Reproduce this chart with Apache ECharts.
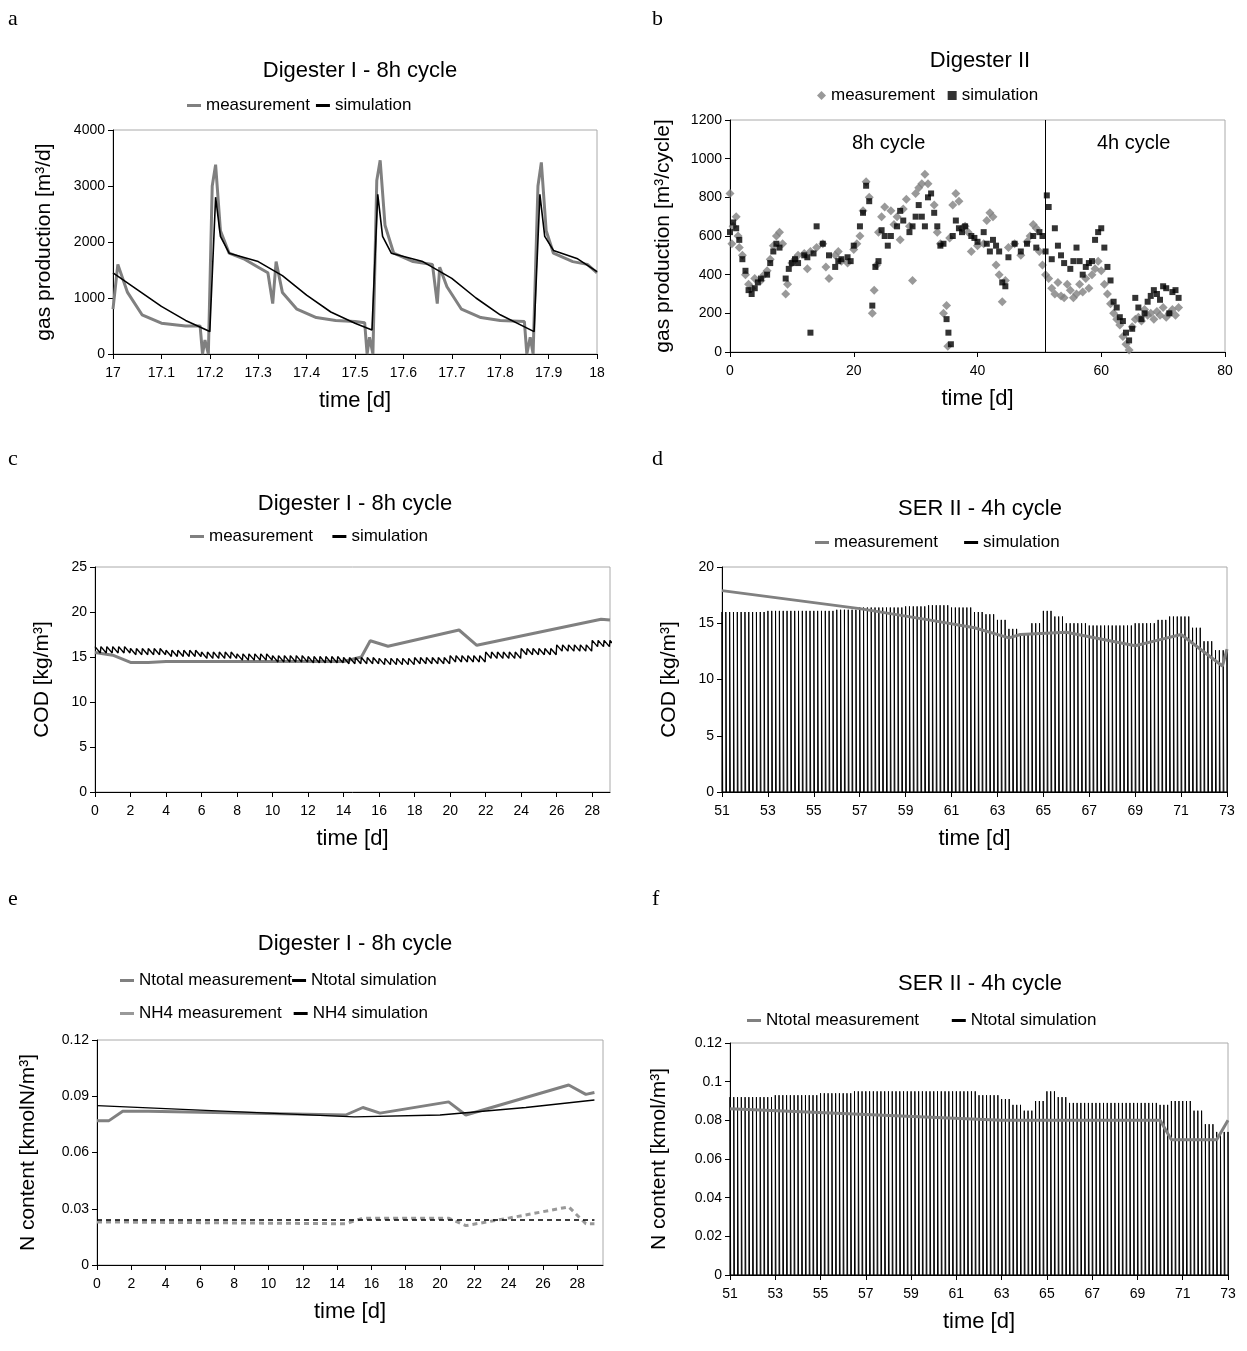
<!DOCTYPE html>
<html><head><meta charset="utf-8">
<script src="https://cdn.jsdelivr.net/npm/echarts@6/dist/echarts.min.js"></script>
<style>body{margin:0;background:#fff}#c{width:1247px;height:1351px}</style>
</head><body><div id="c"></div>
<script>
// panel a - gas production, Digester I
const aMeas = [[17,800],[17.01,1600],[17.03,1100],[17.06,700],[17.1,550],[17.15,500],[17.18,500],[17.185,0],[17.19,250],[17.197,0],[17.205,3000],[17.212,3380],[17.222,2200],[17.24,1800],[17.27,1700],[17.3,1550],[17.32,1450],[17.33,900],[17.337,1650],[17.35,1100],[17.38,800],[17.42,650],[17.46,600],[17.5,580],[17.52,560],[17.525,0],[17.53,300],[17.537,0],[17.545,3100],[17.552,3460],[17.562,2300],[17.58,1800],[17.62,1650],[17.66,1600],[17.67,900],[17.675,1550],[17.69,1200],[17.72,800],[17.76,650],[17.8,600],[17.85,580],[17.855,0],[17.862,300],[17.868,0],[17.878,3000],[17.885,3420],[17.895,2200],[17.91,1800],[17.95,1650],[17.98,1600],[18,1450]];
const aSim = [[17,1450],[17.05,1150],[17.1,850],[17.15,600],[17.2,400],[17.212,2800],[17.222,2100],[17.24,1800],[17.3,1650],[17.35,1400],[17.4,1050],[17.45,750],[17.5,550],[17.535,430],[17.547,2850],[17.557,2100],[17.575,1800],[17.64,1650],[17.7,1350],[17.75,1000],[17.8,700],[17.87,400],[17.882,2850],[17.892,2100],[17.91,1850],[17.96,1700],[18,1470]];
// panel b - gas production, Digester II
const bMeas = [[0,820],[0.3,560],[0.5,650],[1,700],[1.3,600],[1.5,540],[2,500],[2.5,400],[3,350],[3.5,330],[4,380],[5,370],[5.5,400],[6,420],[6.5,480],[7,550],[7.5,600],[8,620],[8.5,560],[9,300],[9.3,350],[10,460],[10.5,480],[11,500],[12,510],[12.5,430],[13,520],[14,540],[15,560],[15.5,440],[16,380],[17,500],[17.5,520],[18,470],[19,460],[20,530],[20.5,560],[21,600],[21.5,730],[22,880],[22.5,800],[23,200],[23.3,320],[23.7,450],[24,620],[24.5,700],[25,750],[26,730],[26.5,660],[27,700],[27.5,580],[28,740],[28.5,790],[29,650],[29.5,370],[30,820],[30.5,850],[31,870],[31.5,920],[32,870],[33,760],[33.5,620],[34,560],[34.5,200],[35,240],[35.2,30],[35.5,590],[36,760],[36.5,820],[37,780],[37.5,640],[38,650],[38.5,620],[39,520],[40,550],[41,560],[41.5,680],[42,720],[42.5,700],[43,450],[43.5,400],[44,260],[44.5,370],[45,540],[46,560],[47,500],[48,570],[48.5,600],[49,660],[49.5,640],[50,520],[50.5,450],[51,400],[51.5,380],[52,330],[52.5,300],[53,360],[53.5,290],[54,280],[54.5,350],[55,320],[55.5,280],[56,300],[56.5,350],[57,310],[57.5,380],[58,330],[58.5,400],[59,430],[59.5,470],[60,420],[60.5,350],[61,300],[61.5,250],[62,200],[62.5,170],[63,140],[63.5,80],[64,40],[64.5,10],[65,130],[65.5,170],[66,180],[66.5,160],[67,220],[67.5,190],[68,200],[68.5,170],[69,210],[69.5,190],[70,230],[70.5,180],[71,200],[71.5,220],[72,190],[72.5,230]];
const bSim = [[0,620],[0.5,670],[1,640],[1.5,580],[2,480],[2.5,420],[3,320],[3.5,300],[4,330],[4.5,360],[5,380],[6,400],[6.5,460],[7,520],[7.5,560],[8,540],[9,380],[9.5,430],[10,460],[10.5,480],[11,460],[12,500],[12.5,490],[13,100],[13.5,510],[14,650],[15,560],[16,500],[17,440],[17.5,470],[18,480],[19,490],[19.5,470],[20,550],[21,650],[21.5,720],[22,860],[22.5,780],[23,240],[23.5,440],[24,470],[24.5,630],[25,600],[25.5,550],[26,600],[27,650],[27.5,730],[28,680],[29,620],[29.5,650],[30,700],[30.5,760],[31,700],[31.5,650],[32,800],[32.5,820],[33,720],[33.5,650],[34,550],[34.5,560],[35,170],[35.3,100],[35.7,40],[36,600],[36.5,680],[37,640],[37.5,620],[38,650],[39,600],[39.5,590],[40,570],[41,620],[41.5,560],[42,520],[42.5,580],[43,550],[43.5,520],[44,360],[44.5,340],[45,490],[46,560],[47,520],[48,560],[49,600],[49.5,540],[50,620],[50.5,600],[51,520],[51.2,810],[51.5,750],[52,480],[52.5,640],[53,550],[53.5,500],[54,460],[55,430],[55.5,470],[56,540],[56.5,470],[57,400],[57.5,440],[58,460],[58.5,470],[59,580],[59.5,620],[60,640],[60.5,540],[61,440],[61.5,370],[62,260],[62.5,230],[63,180],[63.5,160],[64,100],[64.5,60],[65,120],[65.5,280],[66,230],[66.5,170],[67,200],[67.5,260],[68,290],[68.5,320],[69,300],[69.5,270],[70,340],[70.5,330],[71,200],[71.5,310],[72,320],[72.5,280]];
// panel c - COD, Digester I
const cMeas = [[0,15.5],[1,15.2],[2,14.4],[3,14.4],[4,14.5],[14,14.5],[15,15],[15.5,16.8],[16.5,16.2],[20.5,18],[21.5,16.3],[28.5,19.2],[29,19.1]];
const cSimDays = [0,2,4,6,8,10,12,14,16,18,20,22,24,26,28];
const cSimMean = [15.8,15.6,15.4,15.2,15.0,14.8,14.7,14.6,14.5,14.6,14.8,15.2,15.6,16.0,16.5];
// panel d - COD, SER II
const dMeas = [[51,17.9],[57,16.3],[60,15.3],[62,14.6],[63.5,13.7],[64,14],[66,14.2],[69,13],[70,13.5],[71,14],[72.8,11.2],[73,12.7]];
const dEnvT = [51,52,53,54,55,56,57,58,59,60,61,62,62.5,63,63.5,64,64.5,65,65.5,66,67,68,69,70,70.5,71,71.5,72,72.5];
const dEnvV = [16,16,16.1,16.1,16.1,16.2,16.4,16.4,16.5,16.6,16.4,16.0,15.8,15.3,14.5,14.1,15,16.1,15.6,15,14.8,14.8,15,15.3,15.6,15.6,14.6,13.4,12.6];
// panel e - N content, Digester I
const eNtotMeas = [[0,0.077],[0.7,0.077],[1.5,0.082],[3,0.082],[14.5,0.08],[15.5,0.084],[16.5,0.081],[20.5,0.087],[21.5,0.08],[27.5,0.096],[28.5,0.091],[29,0.092]];
const eNtotSim = [[0,0.085],[5,0.083],[10,0.081],[15,0.079],[20,0.08],[25,0.084],[29,0.088]];
const eNh4Meas = [[0,0.023],[14.5,0.022],[15.5,0.025],[20.5,0.025],[21.5,0.021],[24,0.025],[27.5,0.031],[28.5,0.022],[29,0.022]];
const eNh4Sim = [[0,0.024],[29,0.024]];
// panel f - N content, SER II
const fMeas = [[51,0.086],[63,0.08],[70,0.08],[70.5,0.07],[72.5,0.07],[73,0.08]];
const fEnvT = [51,53,55,56.5,60.5,62,63,63.5,64,64.5,65,65.5,66,70,70.5,71.5,72,72.5];
const fEnvV = [0.092,0.093,0.094,0.095,0.095,0.093,0.091,0.088,0.085,0.09,0.095,0.092,0.089,0.088,0.09,0.085,0.078,0.074];

// step lookup of envelope value for a time
function envAt(ts, vs, t) {
  let v = vs[0];
  for (let i = 0; i < ts.length; i++) if (ts[i] <= t + 1e-9) v = vs[i];
  return v;
}
// 4h feeding cycles: spike up, drop to zero
function spikes(ts, vs, t0, t1) {
  const out = [];
  for (let i = 0; t0 + i / 6 <= t1 + 1e-9; i++) {
    const t = t0 + i / 6;
    out.push([t, 0], [t, envAt(ts, vs, t)], [t + 0.03, 0]);
  }
  return out;
}
// 8h cycles: small zigzag around mean
function zigzag(ts, vs, t0, t1) {
  const out = [];
  for (let i = 0; t0 + i / 3 <= t1 + 1e-9; i++) {
    const t = t0 + i / 3;
    const m = envAt(ts, vs, t);
    out.push([t, m + 0.35], [t + 0.3, m - 0.35]);
  }
  return out;
}

const F = 'Liberation Sans, Arial, sans-serif';
const GRAY = '#808080';
const grids = [
  {left: 113, top: 130, width: 484, height: 224},
  {left: 730, top: 120, width: 495, height: 232},
  {left: 95, top: 567, width: 515, height: 225},
  {left: 722, top: 567, width: 505, height: 225},
  {left: 97, top: 1040, width: 506, height: 225},
  {left: 730, top: 1043, width: 498, height: 232}
];
function xAx(i, min, max, interval, fmt, showMax) {
  return {gridIndex: i, type: 'value', min, max, interval, name: 'time [d]', nameLocation: 'middle', nameGap: 36,
    nameTextStyle: {fontFamily: F, fontSize: 22, color: '#000'},
    axisLine: {lineStyle: {color: '#000'}}, axisTick: {show: true, lineStyle:{color:'#000'}},
    axisLabel: {fontFamily: F, fontSize: 14, color: '#000', margin: 12, formatter: fmt || (v => String(v)), showMaxLabel: showMax},
    splitLine: {show: false}};
}
function yAx(i, max, interval, name, gap, fmt) {
  return {gridIndex: i, type: 'value', min: 0, max, interval, name, nameLocation: 'middle', nameGap: gap,
    nameTextStyle: {fontFamily: F, fontSize: 21, color: '#000'},
    axisLine: {show: true, lineStyle: {color: '#000'}}, axisTick: {show: true, lineStyle:{color:'#000'}},
    axisLabel: {fontFamily: F, fontSize: 14, color: '#000', formatter: fmt || (v => String(v))},
    splitLine: {show: false}};
}
const frame = grids.map(g => ({type: 'rect', shape: {x: g.left, y: g.top, width: g.width, height: g.height}, style: {fill: 'none', stroke: '#aaa', lineWidth: 1}, z: -1}));
const letters = [['a',8,8],['b',652,8],['c',8,448],['d',652,448],['e',8,888],['f',652,888]].map(l => ({type: 'text', left: l[1], top: l[2], style: {text: l[0], font: '22px Liberation Serif, Times New Roman, serif', fill: '#000'}}));
const notes = [
  {type: 'text', left: 852, top: 133, style: {text: '8h cycle', font: '20px Liberation Sans, Arial', fill: '#000'}},
  {type: 'text', left: 1097, top: 133, style: {text: '4h cycle', font: '20px Liberation Sans, Arial', fill: '#000'}}
];
const titles = [['Digester I - 8h cycle',355,55],['Digester II',975,45],['Digester I - 8h cycle',350,488],['SER II - 4h cycle',975,493],['Digester I - 8h cycle',350,928],['SER II - 4h cycle',975,968]].map(t => ({text: t[0], left: t[1], top: t[2], textAlign: 'center', textStyle: {fontFamily: F, fontSize: 22, fontWeight: 'normal', color: '#000'}}));
const LINE_ICON = 'rect';
function lg(data, left, top, extra) {
  return Object.assign({data: data.map(d => typeof d === 'string' ? {name: d, icon: LINE_ICON} : d), left, top, itemWidth: 14, itemHeight: 3, itemGap: 8,
    textStyle: {fontFamily: F, fontSize: 17, color: '#000'}, selectedMode: false}, extra || {});
}
function ln(name, i, data, color, width, dash) {
  return {name, type: 'line', xAxisIndex: i, yAxisIndex: i, data, symbol: 'none', showSymbol: false, animation: false,
    lineStyle: {color, width, type: dash ? [5, 4] : 'solid'}, itemStyle: {color}};
}

const chart = echarts.init(document.getElementById('c'));
chart.setOption({
  animation: false,
  title: titles,
  graphic: frame.concat(letters, notes),
  grid: grids,
  legend: [
    lg(['measurement','simulation'], 182, 92, {itemGap: 6}),
    lg([{name:'measurement ', icon:'diamond'},{name:'simulation ', icon:'rect'}], 812, 82, {itemWidth: 9, itemHeight: 9}),
    lg(['measurement  ','simulation  '], 185, 523, {itemGap: 10}),
    lg(['measurement   ','simulation   '], 810, 529, {itemGap: 12}),
    lg(['Ntotal measurement','Ntotal simulation'], 115, 967, {itemGap: 0}),
    lg(['NH4 measurement','NH4 simulation'], 115, 1000, {itemGap: 12}),
    lg(['Ntotal measurement ','Ntotal simulation '], 742, 1007, {itemGap: 28})
  ],
  xAxis: [
    xAx(0, 17, 18, 0.1, v => Math.abs(v - Math.round(v)) < 1e-6 ? String(Math.round(v)) : v.toFixed(1), true),
    xAx(1, 0, 80, 20, null, true),
    xAx(2, 0, 29, 2, null, false),
    xAx(3, 51, 73, 2, null, true),
    xAx(4, 0, 29.5, 2, null, false),
    xAx(5, 51, 73, 2, null, true)
  ],
  yAxis: [
    yAx(0, 4000, 1000, 'gas production [m³/d]', 58),
    yAx(1, 1200, 200, 'gas production [m³/cycle]', 56),
    yAx(2, 25, 5, 'COD [kg/m³]', 42),
    yAx(3, 20, 5, 'COD [kg/m³]', 42),
    yAx(4, 0.12, 0.03, 'N content [kmolN/m³]', 58, v => v === 0 ? '0' : v.toFixed(2)),
    yAx(5, 0.12, 0.02, 'N content [kmol/m³]', 60, v => v === 0 ? '0' : String(+v.toFixed(2)))
  ],
  series: [
    ln('measurement', 0, aMeas, GRAY, 3),
    ln('simulation', 0, aSim, '#000', 1.6),
    {name: 'measurement ', type: 'scatter', xAxisIndex: 1, yAxisIndex: 1, data: bMeas, symbol: 'diamond', symbolSize: 9, itemStyle: {color: GRAY},
      markLine: {symbol: 'none', silent: true, label: {show: false}, lineStyle: {color: '#000', type: 'solid', width: 1}, data: [{xAxis: 51}]}},
    {name: 'simulation ', type: 'scatter', xAxisIndex: 1, yAxisIndex: 1, data: bSim, symbol: 'rect', symbolSize: 6, itemStyle: {color: '#000'}},
    ln('measurement  ', 2, cMeas, GRAY, 3),
    ln('simulation  ', 2, zigzag(cSimDays, cSimMean, 0, 29), '#000', 1.4),
    ln('simulation   ', 3, spikes(dEnvT, dEnvV, 51, 73), '#000', 1),
    ln('measurement   ', 3, dMeas, GRAY, 3),
    ln('Ntotal measurement', 4, eNtotMeas, GRAY, 3),
    ln('Ntotal simulation', 4, eNtotSim, '#000', 1.4),
    ln('NH4 measurement', 4, eNh4Meas, '#999', 3, true),
    ln('NH4 simulation', 4, eNh4Sim, '#000', 1.4, true),
    ln('Ntotal simulation ', 5, spikes(fEnvT, fEnvV, 51, 73), '#000', 1),
    ln('Ntotal measurement ', 5, fMeas, GRAY, 3)
  ]
});
</script></body></html>
